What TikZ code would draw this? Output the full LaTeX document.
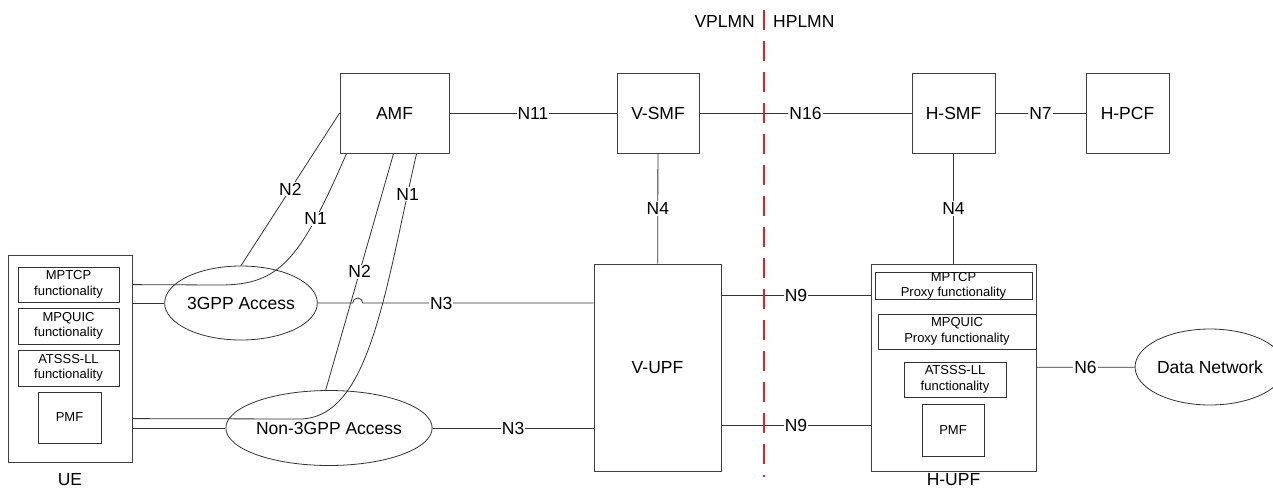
\documentclass[tikz,border=0pt]{standalone}
\usepackage{fontspec}
\setmainfont{Liberation Sans}
\usetikzlibrary{shapes.geometric,positioning}
\definecolor{sepred}{RGB}{226,30,38}

\begin{document}
\begin{tikzpicture}[x=1pt, y=-1pt,
    every node/.style={font=\fontsize{17.5}{20}\selectfont},
    nf/.style={draw=black!75, line width=0.8pt, inner sep=0pt},
    acc/.style={draw=black!80, line width=0.8pt, ellipse, inner sep=0pt},
    fn/.style={draw=black!80, line width=0.8pt, inner sep=0pt, align=center,
        font=\fontsize{13}{15.5}\selectfont},
    lbl/.style={fill=white, inner sep=1pt},
    link/.style={draw=black!80, line width=0.8pt}]
    \useasboundingbox (0,0) rectangle (1273,493);

    % control plane
    \node[nf, minimum width=109pt, minimum height=80pt] (amf) at (394.5,113) {AMF};
    \node[nf, minimum width=82pt, minimum height=80pt] (vsmf) at (658,113) {V-SMF};
    \node[nf, minimum width=83pt, minimum height=80pt] (hsmf) at (953.5,113) {H-SMF};
    \node[nf, minimum width=83pt, minimum height=80pt] (hpcf) at (1127.5,113) {H-PCF};

    % UE
    \node[nf, minimum width=124pt, minimum height=207pt] (ue) at (70,358.5) {};
    \node[below=11pt of ue, inner sep=0pt] (uelbl) {UE};
    \node[fn, minimum width=101pt, minimum height=35pt] (uemptcp) at (68.5,284.5) {MPTCP\\functionality};
    \node[fn, minimum width=101pt, minimum height=36pt] (uempquic) at (68.5,326) {MPQUIC\\functionality};
    \node[fn, minimum width=101pt, minimum height=36pt] (ueatsss) at (68.5,368) {ATSSS-LL\\functionality};
    \node[fn, minimum width=63pt, minimum height=51pt] (uepmf) at (69.5,417.5) {PMF};

    % access
    \node[acc, minimum width=138pt, minimum height=74pt] (tgpp) at (241,303) {3GPP Access};
    \node[acc, minimum width=176pt, minimum height=75pt] (ntgpp) at (329,428) {Non-3GPP Access};

    % user plane
    \node[nf, minimum width=127pt, minimum height=207pt] (vupf) at (657.5,367.5) {V-UPF};
    \node[nf, minimum width=165pt, minimum height=207pt] (hupf) at (953.5,367.5) {};
    \node[below=2pt of hupf, inner sep=0pt] (hupflbl) {H-UPF};
    \node[fn, minimum width=157pt, minimum height=26pt] (hmptcp) at (953.5,286) {MPTCP\\Proxy functionality};
    \node[fn, minimum width=158pt, minimum height=35pt] (hmpquic) at (957,331.5) {MPQUIC\\Proxy functionality};
    \node[fn, minimum width=102pt, minimum height=35pt] (hatsss) at (955,379.5) {ATSSS-LL\\functionality};
    \node[fn, minimum width=62pt, minimum height=52pt] (hpmf) at (953,430) {PMF};
    \node[acc, minimum width=134pt, minimum height=76pt] (dn) at (1210,367) {Data Network};

    % service interfaces
    \draw[link] (amf) -- node[lbl] {N11} (vsmf);
    \draw[link] (vsmf) -- node[lbl] {N16} (hsmf);
    \draw[link] (hsmf) -- node[lbl] {N7} (hpcf);
    \draw[link] (vsmf) -- node[lbl] {N4} (vupf);
    \draw[link] (hsmf) -- node[lbl] {N4} (hupf);

    % N1 / N2
    \draw[link] (amf.west) -- node[lbl] {N2} (tgpp.north);
    \draw[link] ([xshift=7pt]amf.south west) .. controls (300,260) and (280,285) .. (220,285)
        node[lbl, pos=0.25] {N1} -- ([yshift=-30pt]ue.north east);
    \draw[link] ([xshift=54pt]amf.south west) -- node[lbl] {N2} (ntgpp.95);
    \draw[link] ([xshift=77pt]amf.south west) .. controls (385,290) and (370,418) .. (300,419)
        node[lbl, pos=0.1] {N1} -- ([yshift=-164pt]ue.north east);

    % N3 / N9 / N6
    \draw[link] (tgpp.west -| ue.east) -- (tgpp.west);
    \draw[link] (tgpp.east) -- ++(35,0) arc[start angle=180, end angle=0, radius=5pt]
        -- node[lbl, pos=0.34] {N3} (tgpp.east -| vupf.west);
    \draw[link] (ntgpp.west -| ue.east) -- (ntgpp.west);
    \draw[link] (ntgpp.east) -- node[lbl] {N3} (ntgpp.east -| vupf.west);
    \draw[link] ([yshift=-32pt]vupf.north east) -- node[lbl] {N9} ([yshift=-32pt]vupf.north east -| hupf.west);
    \draw[link] ([yshift=46pt]vupf.south east) -- node[lbl] {N9} ([yshift=46pt]vupf.south east -| hupf.west);
    \draw[link] (hupf) -- node[lbl] {N6} (dn);

    % VPLMN | HPLMN
    \coordinate (septop) at (764,10);
    \coordinate (sepbot) at (764,477);
    \draw[sepred, line width=2.6pt, dash pattern=on 20pt off 11pt] (septop) -- (sepbot);
    \node[anchor=east, inner sep=2pt] (vplmn) at (757,21) {VPLMN};
    \node[anchor=west, inner sep=2pt] (hplmn) at (771,21) {HPLMN};
\end{tikzpicture}
\end{document}
